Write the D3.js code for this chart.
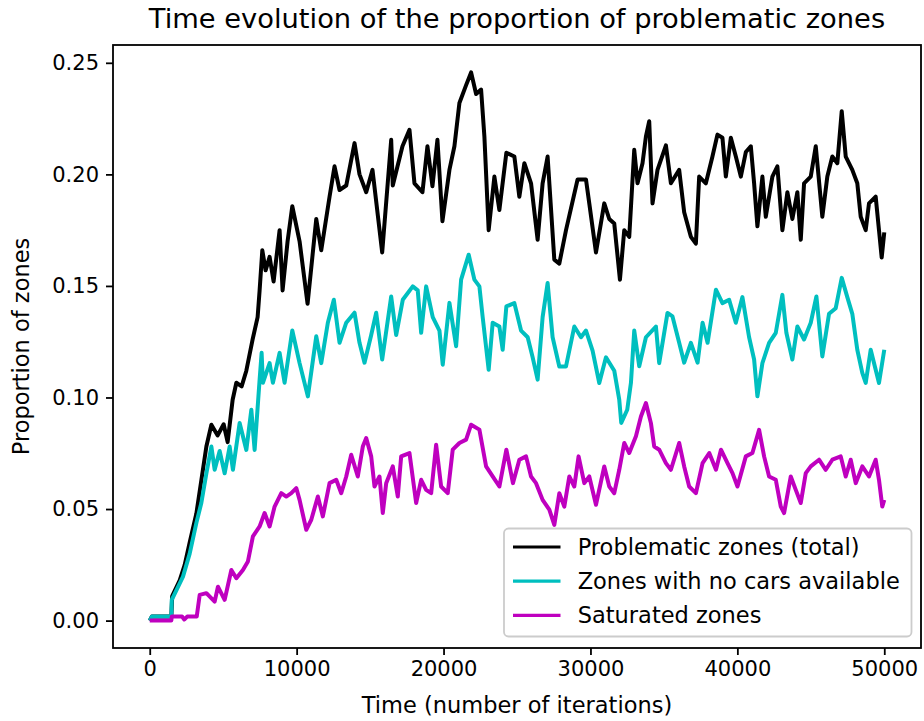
<!DOCTYPE html>
<html>
<head>
<meta charset="utf-8">
<script src="https://cdn.jsdelivr.net/npm/d3@7"></script>
<style>
html,body{margin:0;padding:0;background:#fff;}
svg{display:block;}
text{font-family:"DejaVu Sans",sans-serif;fill:#000;}
</style>
</head>
<body>
<svg id="chart" width="924" height="721"></svg>
<script>
const chartTitle = "Time evolution of the proportion of problematic zones";
const xLabel = "Time (number of iterations)";
const yLabel = "Proportion of zones";
const xTicks = [0, 10000, 20000, 30000, 40000, 50000];
const yTicks = [0.00, 0.05, 0.10, 0.15, 0.20, 0.25];
const seriesNames = ["Problematic zones (total)", "Zones with no cars available", "Saturated zones"];
const seriesColors = ["#000000", "#00bfbf", "#bf00bf"];

// [iteration, proportion]
const totalZones = [
[0,0],[150,0.0018],[1470,0.0018],[1530,0.011],[2040,0.018],[2380,0.025],[2720,0.035],[3176,0.048],[3516,0.063],[3856,0.078],
[4196,0.0878],[4624,0.083],[5032,0.088],[5304,0.080],[5644,0.099],[5896,0.1066],[6256,0.105],[6576,0.112],[7004,0.126],[7344,0.136],
[7480,0.148],[7664,0.166],[7888,0.157],[8160,0.163],[8432,0.152],[8840,0.175],[9044,0.148],[9384,0.170],[9704,0.1857],[10200,0.170],
[10744,0.142],[11336,0.180],[11676,0.166],[12240,0.190],[12580,0.2036],[12920,0.193],[13376,0.195],[13940,0.214],[14280,0.200],[14736,0.192],
[15164,0.202],[15824,0.165],[16436,0.2155],[16544,0.195],[17204,0.2126],[17680,0.220],[18020,0.196],[18564,0.192],[18904,0.2126],[19244,0.1947],
[19584,0.2155],[19924,0.179],[20400,0.202],[20740,0.2126],[21080,0.232],[21536,0.240],[21876,0.2457],[22216,0.236],[22556,0.238],[22780,0.217],
[23072,0.175],[23460,0.199],[23800,0.184],[24276,0.2097],[24820,0.208],[25160,0.190],[25500,0.205],[25956,0.196],[26404,0.1707],[26744,0.196],
[27084,0.208],[27540,0.1618],[27880,0.160],[28336,0.175],[29124,0.1977],[29696,0.1977],[29920,0.187],[30376,0.165],[30940,0.187],[31280,0.180],
[31620,0.178],[32008,0.1528],[32300,0.175],[32640,0.172],[32980,0.211],[33204,0.196],[33544,0.205],[33776,0.217],[34000,0.2238],[34224,0.187],
[34564,0.202],[35136,0.213],[35476,0.196],[36040,0.202],[36380,0.183],[36836,0.172],[37176,0.169],[37400,0.199],[37856,0.196],[38304,0.208],
[38644,0.2178],[38984,0.2164],[39216,0.199],[39556,0.2164],[39896,0.208],[40236,0.199],[40576,0.210],[40916,0.2126],[41140,0.196],[41364,0.1767],
[41704,0.199],[41936,0.181],[42384,0.199],[42724,0.2036],[43064,0.175],[43404,0.192],[43744,0.180],[44084,0.192],[44316,0.1707],[44540,0.196],
[44996,0.199],[45336,0.2126],[45784,0.181],[46124,0.199],[46464,0.208],[46804,0.205],[47104,0.2283],[47376,0.208],[47824,0.202],[48164,0.196],
[48396,0.181],[48736,0.175],[48960,0.187],[49416,0.190],[49640,0.175],[49824,0.1627],[50000,0.174]
];

const noCarsZones = [
[0,0],[150,0.0018],[1470,0.0018],[1500,0.0093],[2264,0.0197],[2720,0.030],[3176,0.0438],[3516,0.0528],[3856,0.066],[4196,0.078],
[4420,0.0676],[4760,0.076],[5100,0.066],[5440,0.078],[5664,0.0676],[6120,0.0886],[6576,0.0765],[6916,0.0945],[7140,0.0765],[7480,0.108],
[7616,0.120],[7704,0.1066],[8160,0.1154],[8384,0.1066],[8840,0.120],[9180,0.1066],[9704,0.130],[10200,0.1154],[10764,0.1005],[11336,0.1274],
[11676,0.1154],[12124,0.1335],[12532,0.1438],[12920,0.1245],[13376,0.1335],[13940,0.138],[14280,0.1245],[14620,0.1156],[15076,0.128],[15416,0.138],
[15824,0.117],[16436,0.1453],[16776,0.128],[17224,0.1438],[17904,0.1498],[18244,0.148],[18476,0.129],[18816,0.1498],[19264,0.136],[19720,0.130],
[19944,0.1147],[20400,0.1424],[20856,0.123],[21196,0.1528],[21712,0.164],[22100,0.1528],[22440,0.1498],[22664,0.136],[23072,0.1124],[23344,0.1335],
[23800,0.1318],[24024,0.1214],[24276,0.1408],[24820,0.1423],[25276,0.130],[25728,0.127],[26064,0.118],[26404,0.108],[26744,0.136],[27084,0.1513],
[27424,0.127],[27880,0.1139],[28336,0.1139],[28900,0.1318],[29356,0.127],[29696,0.130],[30144,0.121],[30600,0.1065],[31056,0.118],[31620,0.112],
[31960,0.099],[32096,0.0886],[32504,0.0945],[32756,0.1066],[32980,0.130],[33320,0.114],[33776,0.127],[34456,0.1318],[34680,0.1154],[35244,0.1379],
[35584,0.1363],[36040,0.1245],[36380,0.1156],[36836,0.1245],[37292,0.1156],[37632,0.1335],[37972,0.1245],[38540,0.1483],[38984,0.1423],[39440,0.1438],
[39896,0.1335],[40344,0.145],[40800,0.127],[41140,0.117],[41364,0.1005],[41704,0.1154],[42160,0.1245],[42616,0.129],[43064,0.146],[43336,0.129],
[43744,0.117],[44084,0.1318],[44540,0.126],[44996,0.1335],[45380,0.1453],[45784,0.1184],[46240,0.1375],[46696,0.140],[47104,0.1536],[47484,0.145],
[47824,0.1375],[48164,0.1214],[48504,0.111],[48736,0.1065],[49076,0.1214],[49416,0.1124],[49640,0.1065],[50000,0.1214]
];

const saturatedZones = [
[0,0],[1470,0],[1500,0.0018],[2200,0.0018],[2350,0.0005],[2550,0.0018],[3200,0.0018],[3400,0.0115],[3856,0.0123],[4420,0.0085],
[4644,0.0152],[5100,0.0093],[5556,0.0227],[5896,0.019],[6344,0.0227],[6684,0.0265],[7024,0.0377],[7480,0.0422],[7820,0.0482],[8160,0.0422],
[8500,0.0511],[8956,0.0571],[9296,0.0556],[9636,0.0571],[9976,0.0594],[10200,0.0541],[10656,0.0407],[10996,0.0452],[11444,0.0556],[11784,0.0467],
[12240,0.0616],[12696,0.0631],[13036,0.0571],[13376,0.0646],[13716,0.0743],[14164,0.0646],[14504,0.0780],[14736,0.0818],[15076,0.0736],[15300,0.0601],
[15640,0.0646],[15864,0.0482],[16096,0.0616],[16544,0.0691],[16884,0.0556],[17116,0.0736],[17680,0.0751],[18136,0.0527],[18476,0.0631],[18816,0.0586],
[19156,0.0571],[19496,0.0788],[19836,0.0601],[20284,0.0571],[20624,0.0766],[21080,0.0796],[21536,0.0811],[21876,0.0878],[22440,0.0856],[22896,0.0691],
[23344,0.0646],[23800,0.0601],[24276,0.0766],[24724,0.0616],[25160,0.0721],[25616,0.0736],[25956,0.0646],[26296,0.0616],[26744,0.0541],[27200,0.0497],
[27540,0.0429],[27880,0.0571],[28220,0.0511],[28560,0.0646],[28900,0.0601],[29192,0.0736],[29580,0.0616],[29920,0.0646],[30376,0.0519],[30940,0.0691],
[31280,0.0601],[31620,0.0571],[31960,0.0676],[32300,0.0796],[32640,0.0751],[33096,0.0826],[33436,0.0915],[33776,0.0975],[34116,0.0885],[34340,0.078],
[34680,0.0766],[35136,0.0706],[35476,0.0676],[36040,0.0796],[36380,0.0691],[36720,0.0601],[37176,0.0571],[37632,0.0706],[38088,0.0751],[38544,0.0676],
[38884,0.0766],[39328,0.0706],[39668,0.0661],[40008,0.0601],[40576,0.0736],[41024,0.0751],[41480,0.0855],[41820,0.0736],[42160,0.0646],[42616,0.0631],
[42956,0.0511],[43180,0.0482],[43636,0.0646],[43976,0.0586],[44316,0.0527],[44656,0.0661],[44996,0.0691],[45560,0.0721],[46016,0.0676],[46464,0.0721],
[47036,0.0736],[47376,0.0646],[47716,0.0721],[48056,0.0616],[48504,0.0691],[48960,0.0646],[49416,0.0721],[49640,0.0631],[49864,0.0511],[50000,0.0541]
];

const allSeries = [totalZones, noCarsZones, saturatedZones];

const svg = d3.select("#chart");
const plot = {left: 113, right: 921, top: 45, bottom: 648};

const xExtent = d3.extent(allSeries.flat(), d => d[0]);
const yExtent = d3.extent(allSeries.flat(), d => d[1]);
const xPad = (xExtent[1] - xExtent[0]) * 0.05;
const yPad = (yExtent[1] - yExtent[0]) * 0.05;
const x = d3.scaleLinear().domain([xExtent[0] - xPad, xExtent[1] + xPad]).range([plot.left, plot.right]);
const y = d3.scaleLinear().domain([yExtent[0] - yPad, yExtent[1] + yPad]).range([plot.bottom, plot.top]);

svg.append("defs").append("clipPath").attr("id", "clip")
  .append("rect").attr("x", plot.left).attr("y", plot.top)
  .attr("width", plot.right - plot.left).attr("height", plot.bottom - plot.top);

const line = d3.line().x(d => x(d[0])).y(d => y(d[1]));

const lines = svg.append("g").attr("clip-path", "url(#clip)");
allSeries.forEach((s, i) => {
  lines.append("path").datum(s)
    .attr("d", line)
    .attr("fill", "none")
    .attr("stroke", seriesColors[i])
    .attr("stroke-width", 4)
    .attr("stroke-linejoin", "round");
});

// axes
const xAxis = d3.axisBottom(x).tickValues(xTicks).tickFormat(d3.format("d")).tickSize(7).tickPadding(6);
const yAxis = d3.axisLeft(y).tickValues(yTicks).tickFormat(d3.format(".2f")).tickSize(7).tickPadding(7);

const gx = svg.append("g").attr("transform", `translate(0,${plot.bottom})`).call(xAxis);
const gy = svg.append("g").attr("transform", `translate(${plot.left},0)`).call(yAxis);
[gx, gy].forEach(g => {
  g.select(".domain").remove();
  g.selectAll(".tick line").attr("stroke", "#000").attr("stroke-width", 1.8);
  g.selectAll(".tick text").attr("font-family", "DejaVu Sans").attr("font-size", 21).attr("fill", "#000");
});
gx.selectAll(".tick text").attr("dy", "0.71em");

// spines
svg.append("rect").attr("x", plot.left).attr("y", plot.top)
  .attr("width", plot.right - plot.left).attr("height", plot.bottom - plot.top)
  .attr("fill", "none").attr("stroke", "#000").attr("stroke-width", 1.8);

// title and labels
svg.append("text").attr("x", (plot.left + plot.right) / 2).attr("y", 28.3)
  .attr("text-anchor", "middle").attr("font-size", 27.3).text(chartTitle);
svg.append("text").attr("x", (plot.left + plot.right) / 2).attr("y", 713.3)
  .attr("text-anchor", "middle").attr("font-size", 22.5).text(xLabel);
svg.append("text").attr("transform", `translate(28.5,${(plot.top + plot.bottom) / 2}) rotate(-90)`)
  .attr("text-anchor", "middle").attr("font-size", 22.5).text(yLabel);

// legend
const lg = svg.append("g");
lg.append("rect").attr("x", 504).attr("y", 528.5).attr("width", 407.5).attr("height", 108)
  .attr("rx", 4.5).attr("fill", "#fff").attr("fill-opacity", 0.8)
  .attr("stroke", "#cccccc").attr("stroke-width", 1.8);
seriesNames.forEach((name, i) => {
  const cy = 547 + i * 34.2;
  lg.append("line").attr("x1", 513).attr("x2", 560.5).attr("y1", cy).attr("y2", cy)
    .attr("stroke", seriesColors[i]).attr("stroke-width", 3.2);
  lg.append("text").attr("x", 577.7).attr("y", cy + 7.8).attr("font-size", 22.5).text(name);
});
</script>
</body>
</html>
